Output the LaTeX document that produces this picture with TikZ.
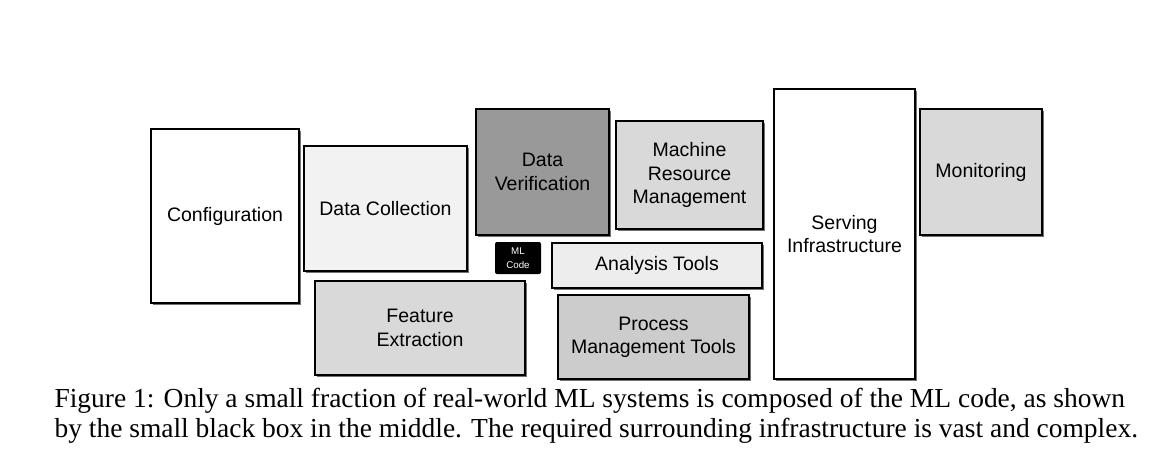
\documentclass[tikz,border=0pt]{standalone}
\usepackage{fontspec}
\setmainfont{Liberation Serif}
\newfontfamily\boxfont{Liberation Sans}
\begin{document}
\begin{tikzpicture}[x=1pt,y=-1pt,
  bx/.style={align=center,scale=1.5,font=\boxfont\fontsize{13}{15.5}\selectfont}]
\useasboundingbox (0,0) rectangle (1150,460);
\newcommand\mybox[6]{%
  \fill[black!55] (#1+1.5,#2+1.5) rectangle (#3+1.5,#4+1.5);
  \draw[line width=1.3pt,fill=#5] (#1,#2) rectangle (#3,#4);
  \coordinate (#6) at ({(#1+#3)/2},{(#2+#4)/2});}
\mybox{151}{129}{299}{303}{white}{conf}
\node[bx] (tconf) at (conf) {Configuration};
\mybox{304}{146}{467}{271}{black!5}{dc}
\node[bx] (tdc) at (dc) {Data Collection};
\mybox{476}{109}{609}{235}{black!40}{dv}
\node[bx] (tdv) at (dv) {Data\\Verification};
\mybox{616}{121}{763}{229}{black!15}{mrm}
\node[bx] (tmrm) at (mrm) {Machine\\Resource\\Management};
\mybox{774}{89}{915}{379}{white}{si}
\node[bx] (tsi) at (si) {Serving\\Infrastructure};
\mybox{920}{109}{1042}{235}{black!15}{mon}
\node[bx] (tmon) at (mon) {Monitoring};
\mybox{552}{243}{762}{288}{black!7}{at}
\node[bx] (tat) at (at) {Analysis Tools};
\mybox{315}{281}{525}{375}{black!15}{fe}
\node[bx] (tfe) at (fe) {Feature\\Extraction};
\mybox{558}{295}{749}{379}{black!20}{pm}
\node[bx] (tpm) at (pm) {Process\\Management Tools};
\fill[black,rounded corners=2pt] (495,242) rectangle (541,274);
\node[align=center,text=white,scale=1.5,font=\boxfont\fontsize{6.5}{9}\selectfont] (ml) at (518,258) {ML\\Code};
\node[anchor=west,scale=1.57,font=\fontsize{17.5}{21}\selectfont] (cap1) at (49,401) {Figure 1: Only a small fraction of real-world ML systems is composed of the ML code, as shown};
\node[anchor=west,scale=1.57,font=\fontsize{17.5}{21}\selectfont] (cap2) at (49,431) {by the small black box in the middle. The required surrounding infrastructure is vast and complex.};
\end{tikzpicture}
\end{document}
